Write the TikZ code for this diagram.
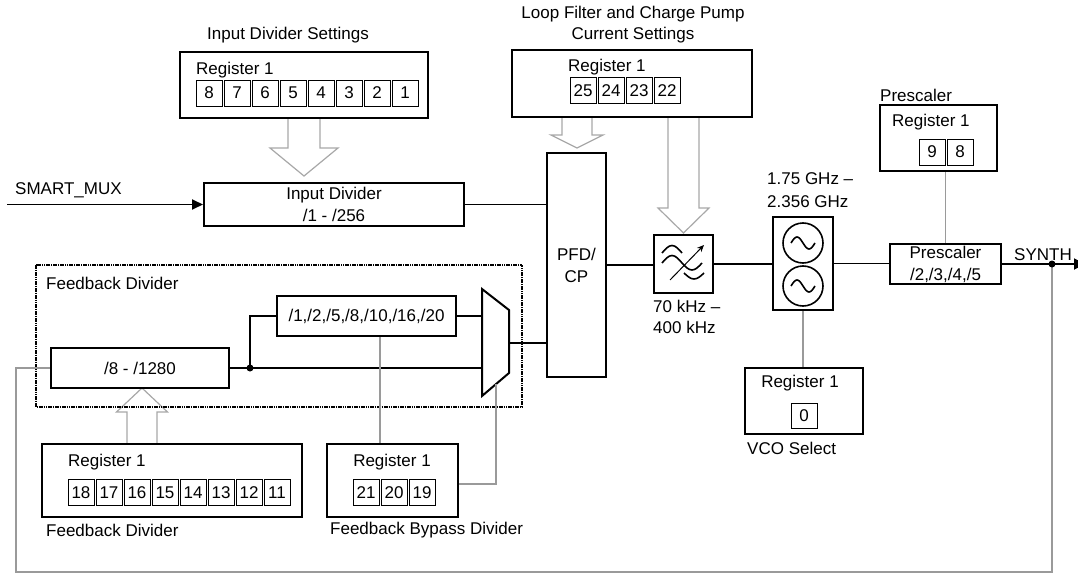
\documentclass[tikz,border=0pt]{standalone}
\usepackage{fontspec}
\setmainfont{Liberation Sans}
\usetikzlibrary{arrows.meta,calc}
\definecolor{linegray}{HTML}{9A9A9A}
\definecolor{arrgray}{HTML}{A8A8A8}
\newcommand{\hollowarrow}[6]{%
  \path[hollow] (#1-#2,#4) -- (#1-#2,#5) -- (#1-#3,#5) -- (#1,#6) -- (#1+#3,#5) -- (#1+#2,#5) -- (#1+#2,#4);}
\begin{document}
\begin{tikzpicture}[x=1pt,y=-1pt,
  every node/.style={font=\fontsize{17}{22}\selectfont, inner sep=0pt},
  blk/.style={draw, line width=2pt, align=center},
  regbox/.style={draw, line width=2.2pt},
  cell/.style={draw, line width=0.8pt, minimum width=26pt, minimum height=26pt},
  conn/.style={line width=1.8pt},
  gconn/.style={line width=1.8pt, draw=linegray},
  hollow/.style={draw=arrgray, line width=1.2pt, fill=white},
  lbl/.style={anchor=west},
  symb/.style={line width=1.6pt}
]
\useasboundingbox (0,0) rectangle (1078,575);

% hollow setting arrows (drawn first)
\hollowarrow{304}{16}{34}{118}{148}{176}
\hollowarrow{577}{15}{26}{117}{135}{148}
\hollowarrow{683.5}{15.5}{25.5}{117}{208}{233}
\hollowarrow{142}{15}{25.5}{444}{412}{388}

% ---- Input divider settings
\node (idst) at (288,35) {Input Divider Settings};
\node[regbox, minimum width=248pt, minimum height=66pt] (ids) at (304,85) {};
\node[lbl] (idsr) at (196,70) {Register 1};
\foreach \t [count=\i from 0] in {8,7,6,5,4,3,2,1}
  \node[cell] (idsc\i) at ({209+28*\i},93) {\t};

% ---- Input divider
\node[blk, minimum width=260pt, minimum height=43pt] (inp) at (334,204.5) {Input Divider\\/1 - /256};
\coordinate (smin) at (7,204.5);
\draw[conn, -{Triangle[length=11pt,width=10pt]}] (smin) -- (inp.west);
\node[lbl] (smlbl) at (15,190) {SMART\_MUX};

% ---- PFD / CP
\node[blk, minimum width=59pt, minimum height=224pt] (pfd) at (576.5,265) {PFD/\\CP};
\draw[conn] (inp.east) -- (inp.east -| pfd.west);

% ---- Loop filter register
\node[align=center, font=\fontsize{17}{21}\selectfont] (lft) at (633,24.5) {Loop Filter and Charge Pump\\Current Settings};
\node[regbox, minimum width=240pt, minimum height=67pt] (lf) at (632,83.5) {};
\node[lbl] (lfr) at (568,67) {Register 1};
\foreach \t [count=\i from 0] in {25,24,23,22}
  \node[cell] (lfc\i) at ({583+28*\i},90.5) {\t};

% ---- Filter
\node[blk, minimum width=59pt, minimum height=58pt] (filt) at (683.5,264) {};
\draw[conn] (pfd.east) -- (pfd.east -| filt.west);
\draw[symb] (662,253) sin (672,245.5) cos (682,253);
\draw[symb] (662,263) sin (672,255.5) cos (682,263) sin (692,270) cos (702,263);
\draw[symb] (684,273) sin (694,279) cos (704,273);
\draw[line width=1pt, -{Stealth[length=7pt,width=6pt]}] (670,280) -- (704,245);
\node[anchor=north west, align=left, font=\fontsize{17}{21}\selectfont] (filtl) at (653,300) {70 kHz –\\400 kHz};

% ---- VCO
\node[blk, minimum width=60pt, minimum height=93pt] (vco) at (803,263.5) {};
\draw[symb] (803,243) circle[radius=20];
\draw[symb] (803,286) circle[radius=20];
\draw[symb] (791,243) sin (797,237) cos (803,243) sin (809,249) cos (815,243);
\draw[symb] (791,286) sin (797,280) cos (803,286) sin (809,292) cos (815,286);
\draw[conn] (filt.east) -- (filt.east -| vco.west);
\node[anchor=north west, align=left, font=\fontsize{17}{23}\selectfont] (vcol) at (767,172.5) {1.75 GHz –\\2.356 GHz};

% ---- VCO select register
\node[regbox, minimum width=118pt, minimum height=66pt] (vcor) at (804,401) {};
\node (vcorr) at (800,383) {Register 1};
\node[cell, minimum height=25pt] (vcoc) at (804,415.5) {0};
\node[lbl] (vcosel) at (747,448) {VCO Select};
\draw[gconn] (vco.south) -- (vco.south |- vcor.north);

% ---- Prescaler
\node[blk, minimum width=111pt, minimum height=40pt] (ps) at (945.5,264) {Prescaler\\/2,/3,/4,/5};
\draw[conn] (vco.east) -- (vco.east -| ps.west);
\node[regbox, minimum width=117pt, minimum height=66pt] (psr) at (938.5,138) {};
\node[lbl] (pslbl) at (880,95) {Prescaler};
\node[lbl] (psrr) at (892,122) {Register 1};
\node[cell] (psc0) at (932,152) {9};
\node[cell] (psc1) at (960,152) {8};
\draw[gconn] (ps.north) -- (ps.north |- psr.south);

% ---- Output
\coordinate (out) at (1085,264);
\draw[conn, -{Triangle[length=11pt,width=11pt]}] (ps.east) -- (out);
\node[lbl] (synth) at (1014,255) {SYNTH};
\coordinate (tap) at (1052,264);
\coordinate (lb1) at (1052,572);
\coordinate (lb2) at (16,572);
\coordinate (lb3) at (16,368);

% ---- Feedback divider block
\draw[line width=2.6pt, dash pattern=on 1.6pt off 0.7pt] (36,265) rectangle (522,407);
\node[lbl] (fblbl) at (46,283) {Feedback Divider};
\node[blk, minimum width=178pt, minimum height=40pt] (fb8) at (140,368) {/8 - /1280};
\node[blk, minimum width=179pt, minimum height=40pt] (byp) at (366.5,316) {/1,/2,/5,/8,/10,/16,/20};
\draw[line width=2pt] (482,289) -- (509,310) -- (509,373) -- (482,396) -- cycle;
\coordinate (muxa) at (482,316);
\coordinate (muxb) at (482,368);
\coordinate (muxo) at (509,343);
\coordinate (muxs) at (496,384);
\coordinate (jn) at (250,368);
\draw[conn] (fb8.east) -- (muxb);
\draw[conn] (jn) |- (byp.west);
\fill (jn) circle[radius=3.5];
\draw[conn] (byp.east) -- (muxa);
\draw[conn] (muxo) -- (muxo -| pfd.west);

% feedback loop
\draw[gconn] (tap) -- (lb1) -- (lb2) -- (lb3) -- (fb8.west);
\fill (tap) circle[radius=3.5];

% ---- Feedback divider register
\node[regbox, minimum width=260pt, minimum height=73pt] (fbr) at (172,480.5) {};
\node[lbl] (fbrr) at (68,462) {Register 1};
\foreach \t [count=\i from 0] in {18,17,16,15,14,13,12,11}
  \node[cell] (fbc\i) at ({81+28*\i},492.5) {\t};
\node[lbl] (fbrl) at (46,530) {Feedback Divider};

% ---- Feedback bypass register
\node[regbox, minimum width=131pt, minimum height=73pt] (bpr) at (392.5,480.5) {};
\node (bprr) at (392,462) {Register 1};
\foreach \t [count=\i from 0] in {21,20,19}
  \node[cell] (bpc\i) at ({366+28*\i},492.5) {\t};
\node[lbl] (bprl) at (330,530) {Feedback Bypass Divider};
\draw[gconn] ([xshift=13.5pt]byp.south) -- ([xshift=-12.5pt]bpr.north);
\draw[gconn] ([yshift=-3.5pt]bpr.east) -| (muxs);
\end{tikzpicture}
\end{document}
